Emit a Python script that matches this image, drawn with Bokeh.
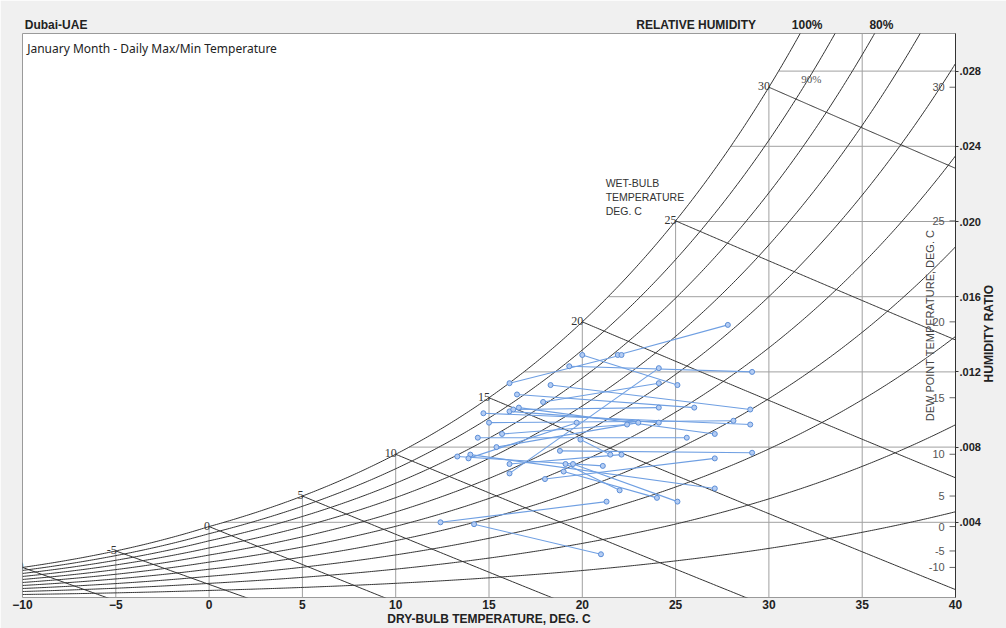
import numpy as np
from bokeh.plotting import figure
from bokeh.models import (ColumnDataSource, LinearAxis, FixedTicker, Range1d,
                          CustomJSTickFormatter)
from bokeh.core.properties import value
from bokeh.embed import file_html
from bokeh.resources import INLINE

# ---------------- data ----------------
min_temp = [16.1, 19.3, 20.0, 18.3, 16.5, 17.9, 14.7, 16.1, 16.3, 16.6, 15.0, 14.4, 15.7, 15.4,
            13.3, 14.0, 16.1, 16.1, 18.0, 18.8, 19.1, 19.0, 19.5, 12.4, 14.2, 19.9, 13.9, 21.9]
min_w = [0.0114, 0.0123, 0.0129, 0.0113, 0.0108, 0.0104, 0.0098, 0.0099, 0.0100, 0.0101, 0.0093,
         0.0085, 0.0087, 0.0080, 0.0075, 0.0076, 0.0066, 0.0071, 0.0063, 0.0078, 0.0071, 0.0067,
         0.0071, 0.0040, 0.0039, 0.0084, 0.0074, 0.0129]
max_temp = [22.1, 29.1, 25.1, 29.0, 26.0, 24.1, 29.0, 24.1, 24.1, 27.1, 28.1, 25.6, 22.4, 23.0,
            21.1, 27.1, 24.1, 22.1, 27.1, 29.1, 22.0, 24.0, 25.1, 21.3, 21.0, 21.5, 19.7, 27.8]
max_w = [0.0129, 0.0120, 0.0113, 0.0100, 0.0101, 0.0114, 0.0092, 0.0093, 0.0101, 0.0087, 0.0094,
         0.0085, 0.0092, 0.0093, 0.0070, 0.0058, 0.0122, 0.0076, 0.0074, 0.0077, 0.0057, 0.0053,
         0.0051, 0.0051, 0.0023, 0.0076, 0.0093, 0.0145]

rh_levels = [10, 20, 30, 40, 50, 60, 70, 80, 90, 100]
wb_temps = [-10, -5, 0, 5, 10, 15, 20, 25, 30]
dp_temps = [-10, -5, 0, 5, 10, 15, 20, 25, 30]
db_ticks = [-10, -5, 0, 5, 10, 15, 20, 25, 30, 35, 40]
grid_db = [-5, 0, 5, 10, 15, 20, 25, 30, 35]
hr_ticks = [0.004, 0.008, 0.012, 0.016, 0.020, 0.024, 0.028]
top_labels = ["Dubai-UAE", "RELATIVE HUMIDITY", "100%", "80%"]
top_label_pos = [-8.2, 26.10, 32.05, 36.03]
hr_title = "HUMIDITY RATIO"
hr_title_pos = 0.01144

P_ATM = 101.325
T_MIN, T_MAX, W_MAX = -10, 40, 0.030


def pws(t):
    t = np.asarray(t, float)
    water = 0.61094 * np.exp(17.625 * t / (t + 243.04))
    ice = 0.61115 * np.exp(22.452 * t / (272.55 + t))
    return np.where(t < 0, ice, water)


def w_of(pv):
    return 0.622 * pv / (P_ATM - pv)


tt = np.linspace(T_MIN, T_MAX, 501)
wsat = w_of(pws(tt))


def tsat(w):
    return float(np.interp(w, wsat, tt))


def wsat_at(t):
    return float(w_of(pws(t)))


# ---------------- figure ----------------
p = figure(width=1006, height=628, x_range=Range1d(T_MIN, T_MAX), y_range=Range1d(0, W_MAX),
           output_backend="svg", toolbar_location=None, x_axis_location=None,
           y_axis_location=None, title=None,
           min_border_left=22, min_border_right=40, min_border_top=33, min_border_bottom=30)
p.border_fill_color = "#f0f0f0"
p.background_fill_color = "white"
p.outline_line_color = "#9a9a9a"
for g in p.grid:
    g.visible = False

# grid lines clipped to the saturation curve
p.segment(x0=grid_db, y0=[0] * len(grid_db), x1=grid_db,
          y1=[min(wsat_at(v), W_MAX) for v in grid_db], line_color="#a0a0a0", line_width=1)
p.segment(x0=[tsat(w) for w in hr_ticks], y0=hr_ticks, x1=[T_MAX] * len(hr_ticks), y1=hr_ticks,
          line_color="#a0a0a0", line_width=1)

# relative humidity curves
xs, ys = [], []
for rh in rh_levels:
    xs.append(list(tt))
    ys.append(list(w_of(rh / 100.0 * pws(tt))))
p.multi_line(xs=xs, ys=ys, line_color="#333333", line_width=1)

# wet-bulb lines
xs, ys = [], []
for twb in wb_temps:
    ws = wsat_at(twb)
    t = np.linspace(twb, T_MAX, 200)
    if twb >= 0:
        w = ((2501 - 2.326 * twb) * ws - 1.006 * (t - twb)) / (2501 + 1.86 * t - 4.186 * twb)
    else:
        w = ((2830 - 0.24 * twb) * ws - 1.006 * (t - twb)) / (2830 + 1.86 * t - 2.1 * twb)
    xs.append(list(t))
    ys.append(list(w))
p.multi_line(xs=xs, ys=ys, line_color="#333333", line_width=1)

# wet-bulb numbers
wb_src = ColumnDataSource(dict(x=wb_temps, y=[wsat_at(t) for t in wb_temps],
                               t=[str(t) for t in wb_temps]))
p.text(x="x", y="y", text="t", source=wb_src, text_align="right", text_baseline="bottom",
       x_offset=1, y_offset=3, text_font=value("Liberation Serif"), text_font_size="12px",
       text_color="#333333")

# dew-point scale at right edge
dp_y = [wsat_at(t) for t in dp_temps]
p.segment(x0=[T_MAX - 0.32] * len(dp_temps), y0=dp_y, x1=[T_MAX] * len(dp_temps), y1=dp_y,
          line_color="#666666", line_width=1)
dp_src = ColumnDataSource(dict(x=[T_MAX - 0.58] * len(dp_temps), y=dp_y,
                               t=[str(t) for t in dp_temps]))
p.text(x="x", y="y", text="t", source=dp_src, text_align="right", text_baseline="middle",
       text_font=value("Liberation Sans"), text_font_size="11px", text_color="#555555")
p.text(x=[38.62], y=[0.01447], text=["DEW POINT TEMPERATURE, DEG. C"], angle=np.pi / 2,
       text_align="center", text_baseline="middle", text_font=value("Liberation Sans"),
       text_font_size="11px", text_color="#444444")

# in-chart labels
p.text(x=[21.25, 21.25, 21.25], y=[0.02205, 0.02131, 0.02057],
       text=["WET-BULB", "TEMPERATURE", "DEG. C"], text_align="left", text_baseline="middle",
       text_font=value("Liberation Sans"), text_font_size="10.5px", text_color="#333333")
p.text(x=[32.27], y=[0.02757], text=["90%"], text_align="center", text_baseline="middle",
       text_font=value("Liberation Serif"), text_font_size="11px", text_color="#555555")
p.text(x=[-9.75], y=[0.02921], text=["January Month - Daily Max/Min Temperature"],
       text_align="left", text_baseline="middle", text_font=value("Noto Sans"),
       text_font_size="12px", text_color="#222222")

# data: daily min -> max segments
p.segment(x0=min_temp, y0=min_w, x1=max_temp, y1=max_w, line_color="#6f9fe2", line_width=1.1)
p.scatter(x=min_temp + max_temp, y=min_w + max_w, marker="circle", size=5,
          fill_color="#b5cdf3", line_color="#5b8ed8", line_width=1)

# axes
xax = LinearAxis(ticker=FixedTicker(ticks=db_ticks, minor_ticks=[]))
xax.axis_line_color = None
xax.major_tick_line_color = None
xax.major_tick_out = 0
xax.major_tick_in = 0
xax.major_label_standoff = 2
xax.major_label_text_font = "Liberation Sans"
xax.major_label_text_font_style = "bold"
xax.major_label_text_font_size = "12px"
xax.major_label_text_color = "#222222"
xax.axis_label = "DRY-BULB TEMPERATURE, DEG. C"
xax.axis_label_standoff = 0
xax.axis_label_text_font = "Liberation Sans"
xax.axis_label_text_font_style = "bold"
xax.axis_label_text_font_size = "12px"
xax.axis_label_text_color = "#222222"
p.add_layout(xax, "below")

yax = LinearAxis(ticker=FixedTicker(ticks=hr_ticks, minor_ticks=[]),
                 formatter=CustomJSTickFormatter(code="return tick.toFixed(3).replace(/^0/, '');"))
yax.axis_line_color = "#333333"
yax.major_tick_line_color = "#333333"
yax.major_tick_out = 3
yax.major_tick_in = 0
yax.major_label_standoff = 1
yax.major_label_text_font = "Liberation Sans"
yax.major_label_text_font_style = "bold"
yax.major_label_text_font_size = "11px"
yax.major_label_text_color = "#222222"
p.add_layout(yax, "right")

# second right axis that only carries the rotated "HUMIDITY RATIO" caption
yax2 = LinearAxis(ticker=FixedTicker(ticks=[hr_title_pos], minor_ticks=[]),
                  formatter=CustomJSTickFormatter(args=dict(label=hr_title),
                                                  code="return label;"))
yax2.axis_line_color = None
yax2.major_tick_line_color = None
yax2.major_tick_out = 0
yax2.major_tick_in = 0
yax2.major_label_standoff = 6
yax2.major_label_orientation = float(np.pi / 2)
yax2.major_label_text_font = "Liberation Sans"
yax2.major_label_text_font_style = "bold"
yax2.major_label_text_font_size = "12px"
yax2.major_label_text_color = "#222222"
p.add_layout(yax2, "right")

tax = LinearAxis(ticker=FixedTicker(ticks=top_label_pos, minor_ticks=[]),
                 formatter=CustomJSTickFormatter(
                     args=dict(labels=top_labels),
                     code="return labels[index];"))
tax.axis_line_color = None
tax.major_tick_line_color = None
tax.major_tick_out = 0
tax.major_tick_in = 0
tax.major_label_standoff = 2
tax.major_label_text_font = "Liberation Sans"
tax.major_label_text_font_style = "bold"
tax.major_label_text_font_size = "12px"
tax.major_label_text_color = "#222222"
p.add_layout(tax, "above")

open("out.html", "w").write(file_html(p, INLINE))
